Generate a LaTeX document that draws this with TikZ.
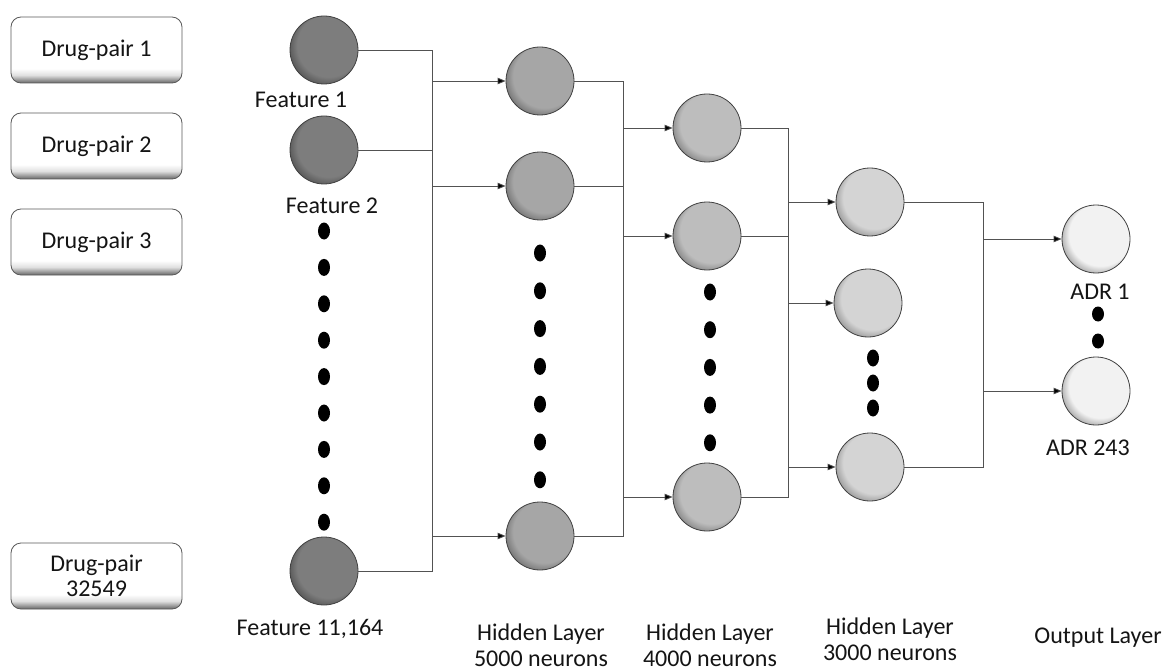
\documentclass[tikz,border=0pt]{standalone}
\usepackage{fontspec}
\setmainfont{Carlito}
\usetikzlibrary{arrows.meta}

% radial shading for a neuron: flat body, darker rim towards the lower left
\newcommand\mkball[3]{%
  \pgfdeclareradialshading{#1}{\pgfpoint{6bp}{6bp}}{%
    rgb(0bp)=(#2,#2,#2); rgb(23bp)=(#2,#2,#2);
    rgb(33bp)=(#3,#3,#3); rgb(50bp)=(#3,#3,#3)}}
\mkball{ballIn}{0.49}{0.24}
\mkball{ballA}{0.65}{0.34}
\mkball{ballB}{0.74}{0.40}
\mkball{ballC}{0.83}{0.46}
\mkball{ballOut}{0.95}{0.48}

% white box with a soft shadow along its lower edge
\pgfdeclareverticalshading{boxshade}{100bp}{%
  rgb(0bp)=(0.40,0.40,0.40); rgb(25bp)=(0.40,0.40,0.40);
  rgb(31bp)=(0.88,0.88,0.88); rgb(36bp)=(1,1,1); rgb(100bp)=(1,1,1)}

\begin{document}
\begin{tikzpicture}[x=1pt,y=-1pt,
  every node/.style={font=\fontsize{24}{25}\selectfont, inner sep=0pt, text=black!92},
  pairbox/.style={rectangle, rounded corners=10pt, draw=black!65, line width=0.8pt,
    shading=boxshade, minimum width=171pt, minimum height=66pt, align=center},
  neuron/.style={circle, draw=black!75, line width=0.8pt, minimum size=68pt},
  inN/.style={neuron, shading=ballIn},
  hA/.style={neuron, shading=ballA},
  hB/.style={neuron, shading=ballB},
  hC/.style={neuron, shading=ballC},
  outN/.style={neuron, shading=ballOut},
  wire/.style={draw=black!68, line width=0.8pt},
  feed/.style={wire, -{Triangle[length=8pt,width=6.5pt,fill=black]}},
  lbl/.style={align=center, font=\fontsize{24}{26}\selectfont},
  dot/.style={fill=black}
]
\useasboundingbox (0,0) rectangle (1164,671);

% drug pairs
\node[pairbox] (p1) at (96.5,50) {Drug-pair 1};
\node[pairbox] (p2) at (96.5,146) {Drug-pair 2};
\node[pairbox] (p3) at (96.5,242) {Drug-pair 3};
\node[pairbox] (p4) at (96.5,576) {Drug-pair\\32549};

% input features
\node[inN] (i1) at (324,50) {};
\node[inN] (i2) at (324,150) {};
\node[inN] (i3) at (324,571) {};
\node (f1) at (301,100) {Feature 1};
\node (f2) at (332,206) {Feature 2};
\node (f3) at (310,629) {Feature 11,164};
\foreach \k in {0,...,8}
  \fill[dot] (324,{231+36.4*\k}) ellipse [x radius=6pt, y radius=8.5pt];

% hidden layer 1
\node[hA] (a1) at (540,81) {};
\node[hA] (a2) at (540,186) {};
\node[hA] (a3) at (540,536) {};
\foreach \k in {0,...,6}
  \fill[dot] (540,{253+37.8*\k}) ellipse [x radius=6pt, y radius=8.5pt];

% hidden layer 2
\node[hB] (b1) at (707,128) {};
\node[hB] (b2) at (707,236) {};
\node[hB] (b3) at (707,497) {};
\foreach \k in {0,...,4}
  \fill[dot] (710,{292+37.7*\k}) ellipse [x radius=6pt, y radius=8.5pt];

% hidden layer 3
\node[hC] (c1) at (870,202) {};
\node[hC] (c2) at (868,303) {};
\node[hC] (c3) at (870,467) {};
\foreach \k in {0,...,2}
  \fill[dot] (873,{358+25*\k}) ellipse [x radius=6pt, y radius=8.5pt];

% output layer
\node[outN] (o1) at (1096,239) {};
\node[outN] (o2) at (1096,391) {};
\node (r1) at (1100,292) {ADR 1};
\node (r2) at (1088,448) {ADR 243};
\fill[dot] (1098,314) ellipse [x radius=6pt, y radius=7.5pt];
\fill[dot] (1098,341) ellipse [x radius=6pt, y radius=7.5pt];

% layer captions
\node[lbl] (l1) at (541,645) {Hidden Layer\\5000 neurons};
\node[lbl] (l2) at (710,645) {Hidden Layer\\4000 neurons};
\node[lbl] (l3) at (890,639) {Hidden Layer\\3000 neurons};
\node (l4) at (1098,638) {Output Layer};

% bus lines between layers
\coordinate (busI) at (432,0);
\coordinate (busA) at (623,0);
\coordinate (busB) at (788,0);
\coordinate (busC) at (983,0);

\draw[wire] (i1.east) -- (i1.east -| busI) -- (i3.east -| busI) -- (i3.east);
\draw[wire] (i2.east) -- (i2.east -| busI);
\foreach \n in {a1,a2,a3}
  \draw[feed] (\n.west -| busI) -- (\n.west);

\draw[wire] (a1.east) -- (a1.east -| busA) -- (a3.east -| busA) -- (a3.east);
\draw[wire] (a2.east) -- (a2.east -| busA);
\foreach \n in {b1,b2,b3}
  \draw[feed] (\n.west -| busA) -- (\n.west);

\draw[wire] (b1.east) -- (b1.east -| busB) -- (b3.east -| busB) -- (b3.east);
\draw[wire] (b2.east) -- (b2.east -| busB);
\foreach \n in {c1,c2,c3}
  \draw[feed] (\n.west -| busB) -- (\n.west);

\draw[wire] (c1.east) -- (c1.east -| busC) -- (c3.east -| busC) -- (c3.east);
\foreach \n in {o1,o2}
  \draw[feed] (\n.west -| busC) -- (\n.west);
\end{tikzpicture}
\end{document}
